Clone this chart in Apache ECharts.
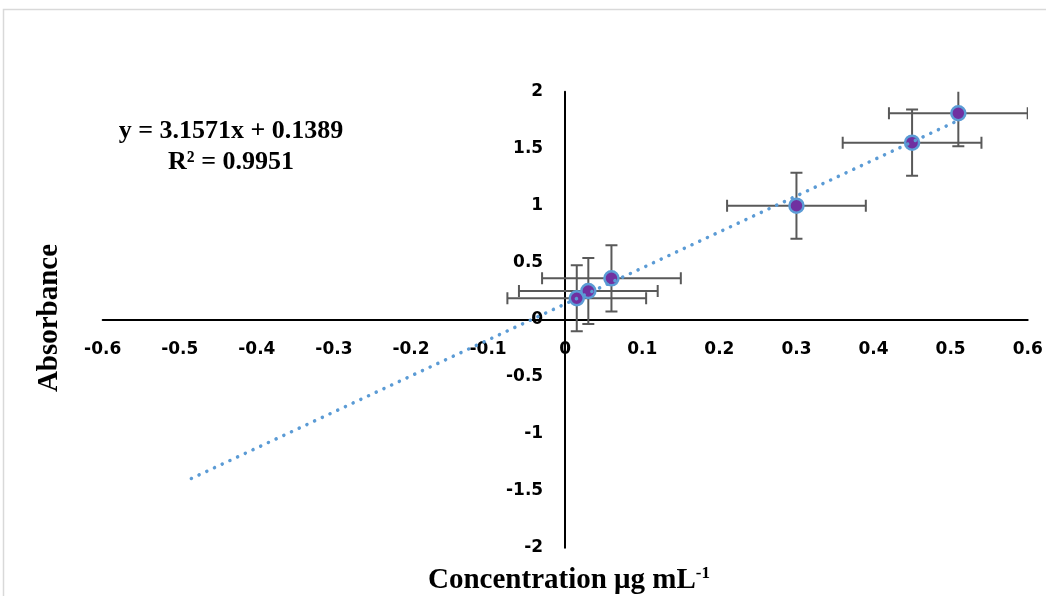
<!DOCTYPE html>
<html>
<head>
<meta charset="utf-8">
<script src="https://cdn.jsdelivr.net/npm/echarts@6/dist/echarts.min.js"></script>
<style>
html,body{margin:0;padding:0;background:#fff;}
#chart{width:1046px;height:596px;}
</style>
</head>
<body>
<div id="chart"></div>
<script>
// Data
const concentration = [0.015, 0.030, 0.060, 0.300, 0.450, 0.510];
const absorbance    = [0.188, 0.252, 0.363, 1.000, 1.553, 1.811];
const xError        = [0.09, 0.09, 0.09, 0.09, 0.09, 0.09];
const yError        = [0.29, 0.29, 0.29, 0.29, 0.29, 0.29];
const trendX        = [-0.485, 0.506];
const trendY        = [-1.393, 1.736];
const equationText  = ['y = 3.1571x + 0.1389', 'R² = 0.9951'];
const xTitle        = 'Concentration μg mL';
const xTitleSup     = '-1';
const yTitle        = 'Absorbance';

const pointData = concentration.map((x, i) => [x, absorbance[i]]);
const errData = concentration.map((x, i) => [x, absorbance[i], xError[i], yError[i]]);
const trendData = trendX.map((x, i) => [x, trendY[i]]);

const chart = echarts.init(document.getElementById('chart'), null, {renderer: 'canvas'});

const labelFont = {fontFamily: 'DejaVu Sans', fontWeight: 'bold', fontSize: 17, color: '#000'};
const errStyle = {stroke: '#595959', lineWidth: 2};

// grid geometry (pixels)
const G = {left: 102.7, right: 18.3, top: 91.7, bottom: 48.3};
const plotW = 1046 - G.left - G.right;
const plotH = 596 - G.top - G.bottom;
const xMin = -0.6, xMax = 0.6, yMin = -2, yMax = 2;
// move axes (line + labels) to the zero crossing
const xAxisOffset = -plotH * (0 - yMin) / (yMax - yMin);
const yAxisOffset = -plotW * (0 - xMin) / (xMax - xMin);

chart.setOption({
  animation: false,
  backgroundColor: '#fff',
  grid: {left: G.left, right: G.right, top: G.top, bottom: G.bottom, containLabel: false, outerBoundsMode: 'none'},
  xAxis: {
    type: 'value', min: xMin, max: xMax, interval: 0.1,
    position: 'bottom', offset: xAxisOffset,
    axisLine: {show: true, onZero: false, lineStyle: {color: '#000', width: 2}},
    axisTick: {show: false},
    splitLine: {show: false},
    axisLabel: Object.assign({margin: 21, formatter: v => String(Math.round(v * 10) / 10)}, labelFont)
  },
  yAxis: {
    type: 'value', min: yMin, max: yMax, interval: 0.5,
    position: 'left', offset: yAxisOffset,
    axisLine: {show: true, onZero: false, lineStyle: {color: '#000', width: 2}},
    axisTick: {show: false},
    splitLine: {show: false},
    axisLabel: Object.assign({margin: 22, formatter: v => String(Math.round(v * 10) / 10)}, labelFont)
  },
  series: [
    {
      type: 'custom',
      z: 2,
      clip: true,
      data: errData,
      renderItem: function (params, api) {
        const x = api.value(0), y = api.value(1), ex = api.value(2), ey = api.value(3);
        const l = api.coord([x - ex, y]);
        const r = api.coord([x + ex, y]);
        const t = api.coord([x, y + ey]);
        const b = api.coord([x, y - ey]);
        const cap = 6;
        const seg = (x1, y1, x2, y2) => ({type: 'line', shape: {x1, y1, x2, y2}, style: errStyle});
        return {
          type: 'group',
          children: [
            seg(l[0], l[1], r[0], r[1]),
            seg(l[0], l[1] - cap, l[0], l[1] + cap),
            seg(r[0], r[1] - cap, r[0], r[1] + cap),
            seg(t[0], t[1], b[0], b[1]),
            seg(t[0] - cap, t[1], t[0] + cap, t[1]),
            seg(b[0] - cap, b[1], b[0] + cap, b[1])
          ]
        };
      }
    },
    {
      type: 'scatter',
      z: 3,
      data: pointData,
      symbol: 'circle',
      symbolSize: 14,
      itemStyle: {color: '#7030A0', borderColor: '#5B9BD5', borderWidth: 2.5, opacity: 1}
    },
    {
      type: 'line',
      z: 4,
      data: trendData,
      symbol: 'none',
      lineStyle: {color: '#5B9BD5', width: 3.5, type: [0.1, 8.4], cap: 'round'}
    }
  ],
  graphic: [
    {
      type: 'rect', silent: true, z: -1,
      shape: {x: 3.5, y: 9.5, width: 1100, height: 700},
      style: {fill: 'none', stroke: '#d9d9d9', lineWidth: 1.5}
    },
    {
      type: 'text', x: 231, y: 131,
      style: {text: equationText[0], font: 'bold 26px "Liberation Serif"', fill: '#000', align: 'center', verticalAlign: 'middle'}
    },
    {
      type: 'text', x: 231, y: 162,
      style: {text: equationText[1], font: 'bold 26px "Liberation Serif"', fill: '#000', align: 'center', verticalAlign: 'middle'}
    },
    {
      type: 'text', x: 569, y: 580,
      style: {
        text: '{b|' + xTitle + '}{s|' + xTitleSup + '}',
        align: 'center', verticalAlign: 'middle',
        rich: {
          b: {fontFamily: 'Liberation Serif', fontWeight: 'bold', fontSize: 29, fill: '#000', lineHeight: 30, verticalAlign: 'bottom'},
          s: {fontFamily: 'Liberation Serif', fontWeight: 'bold', fontSize: 17, fill: '#000', lineHeight: 30, verticalAlign: 'top', padding: [0, 0, 10, 0]}
        }
      }
    },
    {
      type: 'text', x: 50, y: 318, rotation: Math.PI / 2,
      style: {text: yTitle, font: 'bold 29px "Liberation Serif"', fill: '#000', align: 'center', verticalAlign: 'middle'}
    }
  ]
});
</script>
</body>
</html>
